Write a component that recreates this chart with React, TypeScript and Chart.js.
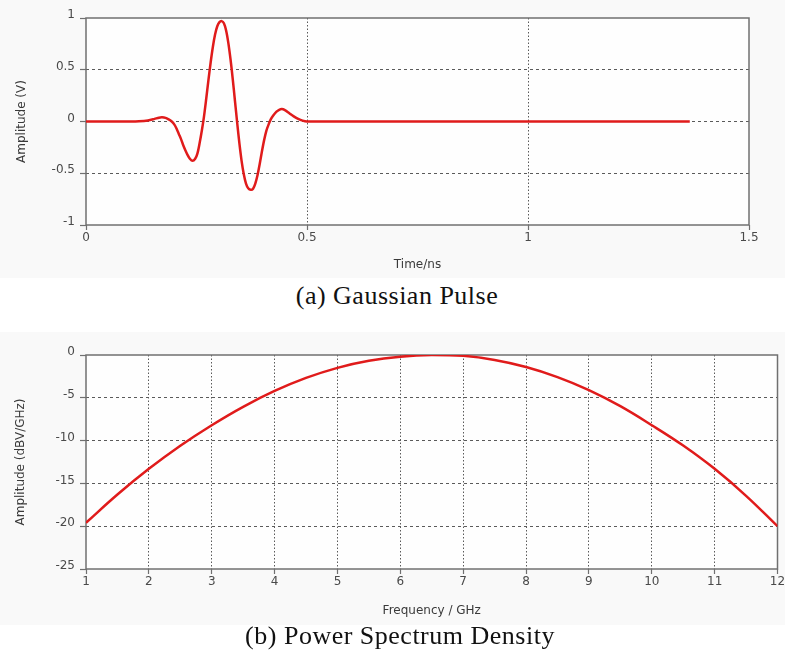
import React, { useEffect, useRef } from "react";
import { Chart, registerables } from "chart.js";

Chart.register(...registerables);

// ---------- Data: (a) Gaussian Pulse ----------
const pulseTime = [
  0, 0.05, 0.1, 0.12, 0.14, 0.155, 0.165, 0.172, 0.18, 0.187,
  0.194, 0.2, 0.205, 0.21, 0.215, 0.22, 0.225, 0.23, 0.235, 0.241,
  0.247, 0.252, 0.257, 0.262, 0.267, 0.272, 0.277, 0.282, 0.287, 0.292,
  0.297, 0.302, 0.307, 0.312, 0.317, 0.322, 0.327, 0.332, 0.337, 0.342,
  0.347, 0.352, 0.357, 0.362, 0.367, 0.373, 0.378, 0.383, 0.388, 0.393,
  0.398, 0.403, 0.408, 0.413, 0.418, 0.424, 0.431, 0.437, 0.443, 0.45,
  0.46, 0.47, 0.48, 0.49, 0.5, 0.55, 0.7, 0.9, 1.1, 1.366,
];
const pulseAmp = [
  0, 0, 0, 0.002, 0.01, 0.025, 0.037, 0.04, 0.035, 0.02,
  0, -0.03, -0.07, -0.12, -0.17, -0.23, -0.28, -0.325, -0.36, -0.38,
  -0.36, -0.31, -0.21, -0.09, 0.05, 0.22, 0.4, 0.57, 0.72, 0.84,
  0.92, 0.96, 0.97, 0.95, 0.88, 0.76, 0.6, 0.41, 0.2, -0.01,
  -0.21, -0.38, -0.51, -0.6, -0.645, -0.66, -0.65, -0.6, -0.52, -0.41,
  -0.29, -0.18, -0.09, -0.03, 0.02, 0.06, 0.095, 0.113, 0.12, 0.11,
  0.08, 0.05, 0.025, 0.008, 0, 0, 0, 0, 0, 0,
];
const pulseXTicks = [0, 0.5, 1, 1.5];
const pulseXLabels = ["0", "0.5", "1", "1.5"];
const pulseYTicks = [-1, -0.5, 0, 0.5, 1];
const pulseYLabels = ["-1", "-0.5", "0", "0.5", "1"];

// ---------- Data: (b) Power Spectrum Density ----------
const psdFreq = [
  1, 1.5, 2, 2.5, 3, 3.5, 4, 4.5, 5, 5.5, 6, 6.5,
  7, 7.5, 8, 8.5, 9, 9.5, 10, 10.5, 11, 11.5, 12,
];
const psdAmp = [
  -19.6, -16.3, -13.3, -10.6, -8.2, -6.05, -4.2, -2.68, -1.5, -0.68, -0.2, 0,
  -0.1, -0.58, -1.4, -2.58, -4.1, -5.98, -8.2, -10.58, -13.3, -16.45, -20.0,
];
const psdXTicks = [1, 2, 3, 4, 5, 6, 7, 8, 9, 10, 11, 12];
const psdXLabels = ["1", "2", "3", "4", "5", "6", "7", "8", "9", "10", "11", "12"];
const psdYTicks = [-25, -20, -15, -10, -5, 0];
const psdYLabels = ["-25", "-20", "-15", "-10", "-5", "0"];

// ---------- Styles ----------
const RED = "#e01b1b";
const GRID = "#5a5a5a";
const FRAME = "#707070";
const TICK_TEXT = "#4a4a4a";
const TITLE_TEXT = "#3a3a3a";
const SANS = "'DejaVu Sans', Verdana, sans-serif";
const TRANSPARENT = "rgba(0,0,0,0)";

const framePlugin = {
  id: "frame",
  beforeDraw(chart: any) {
    const { ctx, chartArea: a, width, height } = chart;
    ctx.save();
    ctx.fillStyle = "#f9f9f9";
    ctx.fillRect(0, 0, width, height);
    ctx.fillStyle = "#fefefe";
    ctx.fillRect(a.left, a.top, a.right - a.left, a.bottom - a.top);
    ctx.restore();
  },
  beforeDatasetsDraw(chart: any) {
    const { ctx, chartArea: a } = chart;
    ctx.save();
    ctx.strokeStyle = FRAME;
    ctx.lineWidth = 1.5;
    ctx.setLineDash([]);
    ctx.strokeRect(a.left, a.top, a.right - a.left, a.bottom - a.top);
    ctx.restore();
  },
};

interface PanelSpec {
  xs: number[];
  ys: number[];
  xTicks: number[];
  xLabels: string[];
  yTicks: number[];
  yLabels: string[];
  xTitle: string;
  yTitle: string;
  height: number;
  padTop: number;
  padRight: number;
  yAxisWidth: number;
  xAxisHeight: number;
  xTitlePadBottom: number;
  yTitlePadTop: number;
  tension: number;
}

function buildConfig(p: PanelSpec): any {
  const xMin = p.xTicks[0];
  const xMax = p.xTicks[p.xTicks.length - 1];
  const yMin = p.yTicks[0];
  const yMax = p.yTicks[p.yTicks.length - 1];
  const data = p.xs.map((x, i) => ({ x, y: p.ys[i] }));
  return {
    type: "line",
    data: {
      datasets: [
        {
          data,
          borderColor: RED,
          borderWidth: 2.5,
          pointRadius: 0,
          fill: false,
          tension: p.tension,
        },
      ],
    },
    options: {
      responsive: false,
      animation: false,
      events: [],
      layout: { padding: { left: 0, top: p.padTop, right: p.padRight, bottom: 0 } },
      plugins: { legend: { display: false }, tooltip: { enabled: false } },
      scales: {
        x: {
          type: "linear",
          min: xMin,
          max: xMax,
          afterBuildTicks: (s: any) => {
            s.ticks = p.xTicks.map((v) => ({ value: v }));
          },
          afterFit: (s: any) => {
            s.height = p.xAxisHeight;
            s.paddingLeft = 0;
            s.paddingRight = 0;
          },
          grid: {
            color: (c: any) =>
              c.tick && (c.tick.value === xMin || c.tick.value === xMax) ? TRANSPARENT : GRID,
            lineWidth: 1,
            tickColor: FRAME,
            tickLength: 5,
            tickWidth: 1.2,
          },
          border: { display: false, dash: [1.5, 2] },
          ticks: {
            color: TICK_TEXT,
            font: { family: SANS, size: 12 },
            padding: 1,
            maxRotation: 0,
            autoSkip: false,
            callback: (_v: any, i: number) => p.xLabels[i],
          },
          title: {
            display: true,
            text: p.xTitle,
            color: TITLE_TEXT,
            font: { family: SANS, size: 12 },
            padding: { top: 4, bottom: p.xTitlePadBottom },
          },
        },
        y: {
          type: "linear",
          min: yMin,
          max: yMax,
          afterBuildTicks: (s: any) => {
            s.ticks = p.yTicks.map((v) => ({ value: v }));
          },
          afterFit: (s: any) => {
            s.width = p.yAxisWidth;
            s.paddingTop = 0;
            s.paddingBottom = 0;
          },
          grid: {
            color: (c: any) =>
              c.tick && (c.tick.value === yMin || c.tick.value === yMax) ? TRANSPARENT : GRID,
            lineWidth: 1,
            tickColor: FRAME,
            tickLength: 6,
            tickWidth: 1.2,
          },
          border: { display: false, dash: [3, 3] },
          ticks: {
            color: TICK_TEXT,
            font: { family: SANS, size: 12 },
            padding: 5,
            labelOffset: -3,
            autoSkip: false,
            callback: (_v: any, i: number) => p.yLabels[i],
          },
          title: {
            display: true,
            text: p.yTitle,
            color: TITLE_TEXT,
            font: { family: SANS, size: 12 },
            padding: { top: p.yTitlePadTop, bottom: 0 },
          },
        },
      },
    },
    plugins: [framePlugin],
  };
}

function Panel({ spec, top }: { spec: PanelSpec; top: number }) {
  const ref = useRef<HTMLCanvasElement | null>(null);
  useEffect(() => {
    if (!ref.current) return;
    const chart = new Chart(ref.current, buildConfig(spec));
    return () => chart.destroy();
  }, [spec]);
  return (
    <canvas
      ref={ref}
      width={785}
      height={spec.height}
      style={{ position: "absolute", left: 0, top, width: 785, height: spec.height, display: "block" }}
    />
  );
}

const pulseSpec: PanelSpec = {
  xs: pulseTime,
  ys: pulseAmp,
  xTicks: pulseXTicks,
  xLabels: pulseXLabels,
  yTicks: pulseYTicks,
  yLabels: pulseYLabels,
  xTitle: "Time/ns",
  yTitle: "Amplitude (V)",
  height: 278,
  padTop: 18,
  padRight: 36,
  yAxisWidth: 86,
  xAxisHeight: 53,
  xTitlePadBottom: 6,
  yTitlePadTop: 15,
  tension: 0.3,
};

const psdSpec: PanelSpec = {
  xs: psdFreq,
  ys: psdAmp,
  xTicks: psdXTicks,
  xLabels: psdXLabels,
  yTicks: psdYTicks,
  yLabels: psdYLabels,
  xTitle: "Frequency / GHz",
  yTitle: "Amplitude (dBV/GHz)",
  height: 293,
  padTop: 23,
  padRight: 7.5,
  yAxisWidth: 86,
  xAxisHeight: 56,
  xTitlePadBottom: 7,
  yTitlePadTop: 14,
  tension: 0.4,
};

const captionStyle: React.CSSProperties = {
  position: "absolute",
  left: 0,
  width: 785,
  textAlign: "center",
  fontFamily: "'Liberation Serif', 'Times New Roman', serif",
  fontSize: 26,
  letterSpacing: 0.5,
  lineHeight: "30px",
  color: "#111",
  boxSizing: "border-box",
};

export default function App() {
  return (
    <div
      style={{
        position: "absolute",
        left: 0,
        top: 0,
        width: 785,
        height: 664,
        background: "#ffffff",
        overflow: "hidden",
      }}
    >
      <Panel spec={pulseSpec} top={0} />
      <div style={{ ...captionStyle, top: 281, paddingLeft: 9 }}>(a) Gaussian Pulse</div>
      <Panel spec={psdSpec} top={332} />
      <div style={{ ...captionStyle, top: 621, paddingLeft: 15 }}>(b) Power Spectrum Density</div>
    </div>
  );
}
